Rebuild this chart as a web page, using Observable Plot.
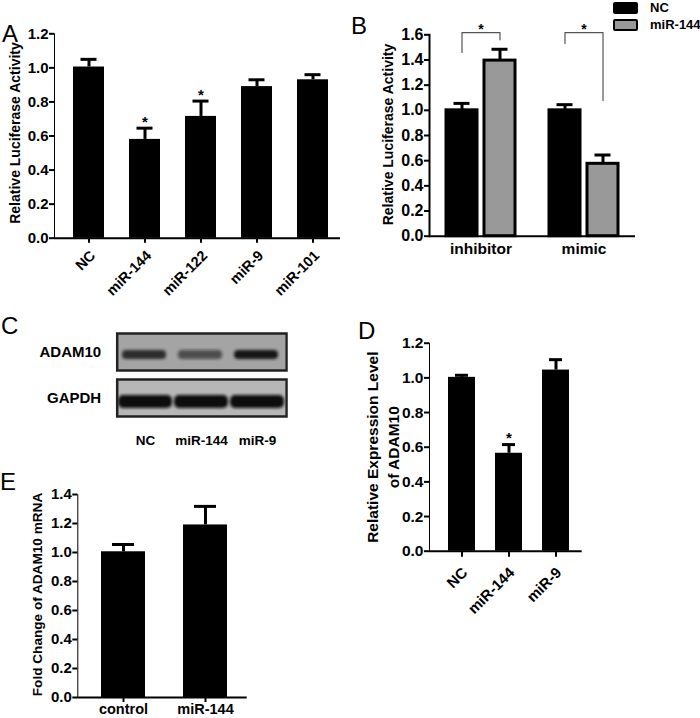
<!DOCTYPE html>
<html><head><meta charset="utf-8">
<script src="https://cdn.jsdelivr.net/npm/d3@7"></script>
<script src="https://cdn.jsdelivr.net/npm/@observablehq/plot@0.6"></script>
<style>
body{margin:0;background:#fff;}
#root{position:relative;width:700px;height:718px;font-family:"Liberation Sans",Arial,sans-serif;overflow:hidden;background:#fff}
.panel{position:absolute}
.letter{position:absolute;font-size:24px;line-height:24px;color:#000;font-family:"Liberation Sans",Arial,sans-serif}
.leg{position:absolute;font-size:13px;font-weight:bold;line-height:15px;color:#000;white-space:nowrap}
.sw{position:absolute;width:25px;height:12px;box-sizing:border-box;border:2.5px solid #000;border-radius:2px}
svg g[aria-label*="axis"] path, svg g[aria-label*="axis"] line {stroke-width:2px}
</style></head>
<body><div id="root"></div>
<script>
const FONT = '"Liberation Sans", Arial, sans-serif';

// ---------- Panel A ----------
const aCategories = ["NC", "miR-144", "miR-122", "miR-9", "miR-101"];
const aValues = [1.005, 0.58, 0.715, 0.89, 0.93];
const aErrors = [0.045, 0.066, 0.09, 0.04, 0.03];
const aSig = ["", "*", "*", "", ""];
const aTicks = [0, 0.2, 0.4, 0.6, 0.8, 1.0, 1.2];

// ---------- Panel B ----------
const bGroups = ["inhibitor", "mimic"];
const bSeries = ["NC", "miR-144"];
const bSeriesColors = ["#000000", "#999999"];
const bNC = [1.0, 1.0];
const bNCErr = [0.055, 0.045];
const bMiR = [1.395, 0.575];
const bMiRErr = [0.09, 0.07];
const bBracketLeft = [1.46, 1.53];
const bBracketTop = [1.618, 1.618];
const bBracketRight = [1.56, 1.078];
const bTicks = [0, 0.2, 0.4, 0.6, 0.8, 1.0, 1.2, 1.4, 1.6];

// ---------- Panel C (western blot) ----------
const cLanes = ["NC", "miR-144", "miR-9"];
const cRows = ["ADAM10", "GAPDH"];
const cAdam10Intensity = [0.85, 0.6, 1.0];
const cGapdhIntensity = [1.0, 1.0, 1.0];

// ---------- Panel D ----------
const dCategories = ["NC", "miR-144", "miR-9"];
const dValues = [1.003, 0.565, 1.045];
const dErrors = [0.012, 0.05, 0.06];
const dSig = ["", "*", ""];
const dTicks = [0, 0.2, 0.4, 0.6, 0.8, 1.0, 1.2];

// ---------- Panel E ----------
const eCategories = ["control", "miR-144"];
const eValues = [1.005, 1.19];
const eErrors = [0.05, 0.128];
const eTicks = [0, 0.2, 0.4, 0.6, 0.8, 1.0, 1.2, 1.4];

const root = document.getElementById("root");
const NS = "http://www.w3.org/2000/svg";
function place(el, left, top) {
  const d = document.createElement("div");
  d.className = "panel";
  d.style.left = left + "px";
  d.style.top = top + "px";
  d.appendChild(el);
  root.appendChild(d);
  return el;
}
function styleAxes(svg, xFont, shift) {
  svg.querySelectorAll('g[aria-label^="x-axis"], g[aria-label^="fx-axis"]').forEach(g => g.style.fontSize = xFont + "px");
  svg.querySelectorAll('g[aria-label*="axis"] path, g[aria-label*="axis"] line, g[aria-label="frame"] rect, g[aria-label="frame"] line').forEach(e => e.style.strokeWidth = "2px");
  if (shift) {
    svg.querySelectorAll('g[aria-label^="x-axis"] text').forEach(t => {
      const g = document.createElementNS(NS, "g");
      g.setAttribute("transform", `translate(${shift[0]},${shift[1]})`);
      t.parentNode.insertBefore(g, t);
      g.appendChild(t);
    });
  }
}

function simplePanel(c) {
  const data = c.cats.map((k, i) => ({cat: k, value: c.values[i], err: c.errors[i], sig: c.sig ? c.sig[i] : ""}));
  const svg = Plot.plot({
    width: c.width, height: c.height,
    marginLeft: c.ml, marginRight: c.mr, marginTop: c.mt, marginBottom: c.mb,
    x: {domain: c.cats, paddingInner: c.pi, paddingOuter: c.po, align: c.align, tickSize: c.xTickSize, tickPadding: c.xTickPadding, tickRotate: c.rotate, label: null},
    y: {domain: [0, c.yMax], ticks: c.ticks, tickFormat: d => d.toFixed(1), line: true, tickSize: 5, tickPadding: 1, label: null},
    style: {fontFamily: FONT, fontSize: c.tickFont + "px", fontWeight: "bold", color: "#000", background: "transparent", overflow: "visible"},
    marks: [
      Plot.barY(data, {x: "cat", y: "value", fill: "#000"}),
      Plot.ruleX(data, {x: "cat", y1: "value", y2: d => d.value + d.err, strokeWidth: 3}),
      Plot.tickY(data, {x: "cat", y: d => d.value + d.err, strokeWidth: 3, insetLeft: c.capInset, insetRight: c.capInset}),
      Plot.text(data.filter(d => d.sig), {x: "cat", y: d => d.value + d.err, text: "sig", dy: -6, fontSize: 15}),
      Plot.ruleY([0], {strokeWidth: 2}),
      Plot.text([c.yLabel], {frameAnchor: "left", textAnchor: "middle", rotate: -90, dx: c.ylDx, dy: c.ylDy, text: d => d, fontSize: c.ylFont, lineHeight: c.lineHeight || 1})
    ]
  });
  styleAxes(svg, c.xFont, c.shift);
  return svg;
}

// Panel A
place(simplePanel({
  cats: aCategories, values: aValues, errors: aErrors, sig: aSig, ticks: aTicks, yMax: 1.2,
  width: 350, height: 300, ml: 54, mr: 10, mt: 33.3, mb: 62.3,
  pi: 0.446, po: 0.27, align: 0.62, xTickSize: 5, xTickPadding: 2, rotate: -45,
  tickFont: 15, xFont: 14.5, capInset: 7.5, shift: [4, 8],
  yLabel: "Relative Luciferase Activity", ylDx: -39, ylDy: -3, ylFont: 14
}), 0, 0);

// Panel B
{
  const bData = [];
  bGroups.forEach((g, i) => {
    bData.push({group: g, series: bSeries[0], value: bNC[i], err: bNCErr[i]});
    bData.push({group: g, series: bSeries[1], value: bMiR[i], err: bMiRErr[i]});
  });
  const bracket = [];
  bGroups.forEach((g, i) => {
    bracket.push({group: g, series: bSeries[0], y: bBracketLeft[i]});
    bracket.push({group: g, series: bSeries[0], y: bBracketTop[i]});
    bracket.push({group: g, series: bSeries[1], y: bBracketTop[i]});
    bracket.push({group: g, series: bSeries[1], y: bBracketRight[i]});
  });
  const svg = Plot.plot({
    width: 350, height: 300, marginLeft: 79, marginRight: 65, marginTop: 34.3, marginBottom: 64.3,
    fx: {domain: bGroups, padding: 0, label: null, axis: "bottom", tickSize: 0, tickPadding: 7},
    x: {domain: bSeries, paddingInner: 0.173, paddingOuter: 0.417, axis: null},
    y: {domain: [0, 1.6], ticks: bTicks, tickFormat: d => d.toFixed(1), line: true, tickSize: 5, tickPadding: 1, label: null},
    color: {domain: bSeries, range: bSeriesColors},
    style: {fontFamily: FONT, fontSize: "16px", fontWeight: "bold", color: "#000", background: "transparent", overflow: "visible"},
    marks: [
      Plot.barY(bData, {fx: "group", x: "series", y: "value", fill: "series", stroke: "#000", strokeWidth: 3}),
      Plot.ruleX(bData, {fx: "group", x: "series", y1: "value", y2: d => d.value + d.err, strokeWidth: 3}),
      Plot.tickY(bData, {fx: "group", x: "series", y: d => d.value + d.err, strokeWidth: 3, insetLeft: 7.5, insetRight: 7.5}),
      Plot.line(bracket, {fx: "group", x: "series", y: "y", z: "group", stroke: "#555", strokeWidth: 1.2}),
      Plot.text(bGroups, {fx: d => d, text: () => "*", frameAnchor: "top", dy: -11, fontSize: 14}),
      Plot.ruleY([0], {strokeWidth: 2}),
      Plot.text(["Relative Luciferase Activity"], {fx: () => bGroups[0], frameAnchor: "left", textAnchor: "middle", rotate: -90, dx: -41, dy: -1, text: d => d, fontSize: 14})
    ]
  });
  styleAxes(svg, 15.5, null);
  place(svg, 350, 0);
  // legend
  bSeries.forEach((s, i) => {
    const sw = document.createElement("div");
    sw.className = "sw";
    sw.style.left = "613px"; sw.style.top = (2 + i * 16.5) + "px";
    sw.style.background = bSeriesColors[i];
    root.appendChild(sw);
    const t = document.createElement("div");
    t.className = "leg";
    t.style.left = "650px"; t.style.top = (0 + i * 16.5) + "px";
    t.textContent = s;
    root.appendChild(t);
  });
}

// Panel C
{
  const adam = cLanes.map((l, i) => ({lane: l, row: cRows[0], intensity: cAdam10Intensity[i]}));
  const gapdh = cLanes.map((l, i) => ({lane: l, row: cRows[1], intensity: cGapdhIntensity[i]}));
  const svg = Plot.plot({
    width: 350, height: 170, marginLeft: 116.7, marginRight: 64, marginTop: 31.7, marginBottom: 53.3,
    x: {domain: cLanes, padding: 0, tickSize: 0, tickPadding: 19, label: null},
    fy: {domain: cRows, paddingInner: 0.19, paddingOuter: 0, tickSize: 0, tickPadding: 16, label: null, axis: "left"},
    opacity: {type: "identity"},
    style: {fontFamily: FONT, fontSize: "13.5px", fontWeight: "bold", color: "#000", background: "transparent", overflow: "visible"},
    marks: [
      Plot.cell(cLanes, {x: d => d, fy: () => cRows[0], fill: "#a4a4a4"}),
      Plot.cell(cLanes, {x: d => d, fy: () => cRows[1], fill: "#b7b7b7"}),
      Plot.cell(adam, {x: "lane", fy: "row", fill: "#141414", fillOpacity: "intensity", insetTop: 17, insetBottom: 11, insetLeft: 5, insetRight: 7, rx: 4}),
      Plot.cell(gapdh, {x: "lane", fy: "row", fill: "#111", fillOpacity: "intensity", insetTop: 16, insetBottom: 8, insetLeft: 1, insetRight: 1, rx: 5}),
      Plot.frame({stroke: "#222", strokeWidth: 2.5})
    ]
  });
  svg.querySelectorAll('g[aria-label^="fy-axis"]').forEach(g => g.style.fontSize = "15px");
  const defs = document.createElementNS(NS, "defs");
  const f = document.createElementNS(NS, "filter");
  f.setAttribute("id", "blotblur");
  f.setAttribute("x", "-20%"); f.setAttribute("y", "-50%"); f.setAttribute("width", "140%"); f.setAttribute("height", "200%");
  const gb = document.createElementNS(NS, "feGaussianBlur");
  gb.setAttribute("stdDeviation", "1.8");
  f.appendChild(gb); defs.appendChild(f); svg.insertBefore(defs, svg.firstChild);
  const cells = svg.querySelectorAll('g[aria-label="cell"]');
  if (cells.length >= 4) { cells[2].setAttribute("filter", "url(#blotblur)"); cells[3].setAttribute("filter", "url(#blotblur)"); }
  place(svg, 0, 300);
}

// Panel D
place(simplePanel({
  cats: dCategories, values: dValues, errors: dErrors, sig: dSig, ticks: dTicks, yMax: 1.2,
  width: 350, height: 418, ml: 79, mr: 118.3, mt: 42.7, mb: 167.3,
  pi: 0.435, po: 0.315, align: 0.59, xTickSize: 6, xTickPadding: 2, rotate: -45,
  tickFont: 15.5, xFont: 15, capInset: 7, shift: [3, 11],
  yLabel: "Relative Expression Level\nof ADAM10", ylDx: -48, ylDy: 0, ylFont: 15.5, lineHeight: 1.4
}), 350, 300);

// Panel E
place(simplePanel({
  cats: eCategories, values: eValues, errors: eErrors, sig: null, ticks: eTicks, yMax: 1.4,
  width: 350, height: 248, ml: 77.3, mr: 103.3, mt: 24, mb: 21,
  pi: 0.46, po: 0.254, align: 0.54, xTickSize: 5, xTickPadding: 1, rotate: 0,
  tickFont: 15, xFont: 14.5, capInset: 11, shift: null,
  yLabel: "Fold Change of ADAM10 mRNA", ylDx: -40, ylDy: -1.5, ylFont: 13.6
}), 0, 470);

// Panel letters
[["A", 2, 22], ["B", 351, 14], ["C", 1, 314], ["D", 358, 319], ["E", 0, 470]].forEach(([t, x, y]) => {
  const d = document.createElement("div");
  d.className = "letter"; d.textContent = t;
  d.style.left = x + "px"; d.style.top = y + "px";
  root.appendChild(d);
});
</script>
</body></html>
